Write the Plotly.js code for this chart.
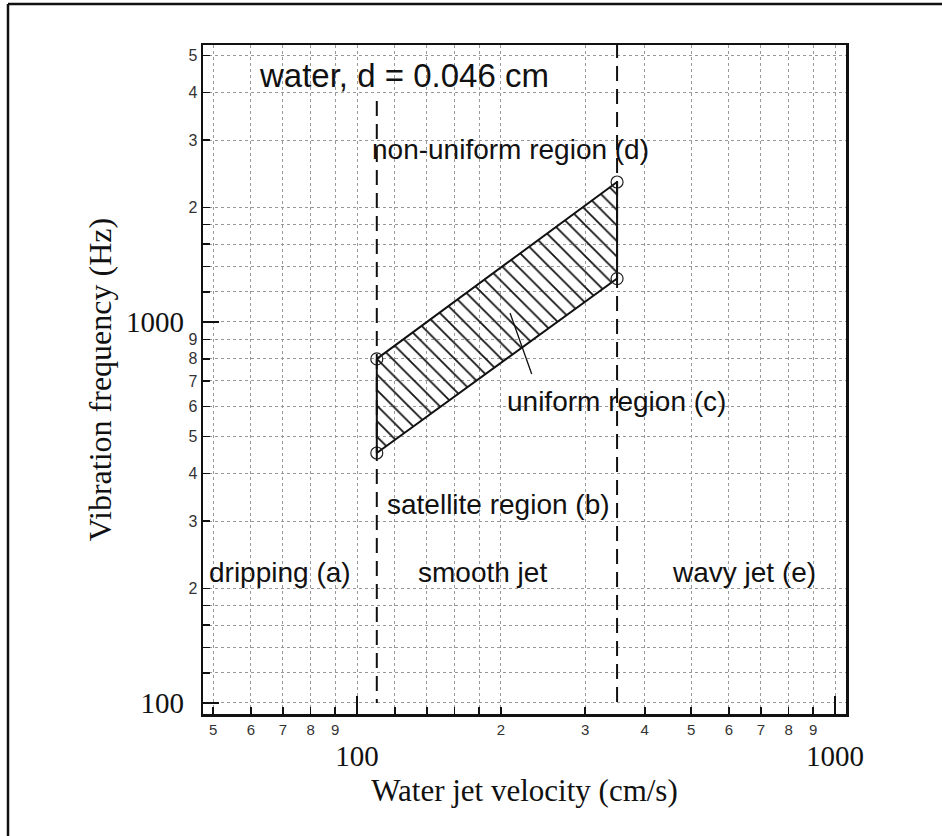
<!DOCTYPE html>
<html><head><meta charset="utf-8">
<script src="https://cdn.plot.ly/plotly-3.0.1.min.js"></script>
<style>html,body{margin:0;padding:0;background:#fff}#chart{width:942px;height:836px}</style>
</head><body><div id="chart"></div>
<script>
// ---- data ----
const regionX = [110, 350, 350, 110, 110];
const regionY = [800, 2330, 1300, 453, 800];
const cornerX = [110, 350, 350, 110];
const cornerY = [800, 2330, 1300, 453];
const boundaryLowX = [110, 110];
const boundaryLowY = [3800, 100];
const boundaryHighX = [350, 350];
const boundaryHighY = [5400, 100];
const leaderX = [232, 209];
const leaderY = [730, 1056];
const xTickVals = [50,60,70,80,90,100,120,140,160,180,200,300,400,500,600,700,800,900,1000];
const xTickText = ['5','6','7','8','9','','','','','','2','3','4','5','6','7','8','9',''];
const yTickVals = [100,120,140,160,180,200,300,400,500,600,700,800,900,1000,1200,1400,1600,1800,2000,3000,4000,5000];
const yTickText = ['','','','','','2','3','4','5','6','7','8','9','','','','','','2','3','4','5'];
const majorVals = [100, 1000];
const majorText = ['100', '1000'];
const labelTitle = 'water, d = 0.046 cm';
const labelD = 'non-uniform region (d)';
const labelC = 'uniform region (c)';
const labelB = 'satellite region (b)';
const labelA = 'dripping (a)';
const labelSmooth = 'smooth jet';
const labelE = 'wavy jet (e)';
const xTitle = 'Water jet velocity (cm/s)';
const yTitle = 'Vibration frequency (Hz)';

// ---- styles ----
const SANS = 'Liberation Sans, Arial, sans-serif';
const SERIF = 'Liberation Serif, Times New Roman, serif';
const xr = [1.6778, 3.023];
const yr = [1.971, 3.727];

const traces = [
  {x: regionX, y: regionY, mode: 'lines', fill: 'toself',
   fillcolor: 'rgba(0,0,0,0)',
   fillpattern: {shape: '\\', size: 11, solidity: 0.16, fgcolor: '#111', fillmode: 'replace'},
   line: {color: '#111', width: 2}, hoverinfo: 'skip', showlegend: false},
  {x: cornerX, y: cornerY, mode: 'markers',
   marker: {symbol: 'circle-open', size: 12, color: '#222', line: {width: 1.2}},
   hoverinfo: 'skip', showlegend: false},
  {x: boundaryLowX, y: boundaryLowY, mode: 'lines',
   line: {color: '#111', width: 2, dash: '15px,8px'}, hoverinfo: 'skip', showlegend: false},
  {x: boundaryHighX, y: boundaryHighY, mode: 'lines',
   line: {color: '#111', width: 2, dash: '15px,8px'}, hoverinfo: 'skip', showlegend: false},
  {x: leaderX, y: leaderY, mode: 'lines',
   line: {color: '#111', width: 1.3}, hoverinfo: 'skip', showlegend: false},
  {x: majorVals, y: majorVals, xaxis: 'x2', yaxis: 'y2', mode: 'markers',
   marker: {opacity: 0}, hoverinfo: 'skip', showlegend: false}
];

function px2x(p){ return (p - 203) / 643; }
function px2y(p){ return (714 - p) / 669; }
function lab(text, xpx, ypx, size){
  return {text: text, xref: 'paper', yref: 'paper', x: px2x(xpx), y: px2y(ypx),
          xanchor: 'left', yanchor: 'middle', showarrow: false,
          font: {family: SANS, size: size, color: '#111'}};
}

const layout = {
  width: 942, height: 836,
  margin: {l: 203, r: 96, t: 45, b: 122, pad: 0},
  paper_bgcolor: '#fff', plot_bgcolor: '#fff',
  showlegend: false,
  xaxis: {type: 'log', range: xr, tickmode: 'array', tickvals: xTickVals, ticktext: xTickText,
          ticks: 'inside', ticklen: 7, tickwidth: 1.5, tickcolor: '#111',
          showline: true, linewidth: 2.5, linecolor: '#111', mirror: true,
          showgrid: true, gridcolor: '#999', griddash: 'dot', gridwidth: 1,
          zeroline: false, tickfont: {family: SANS, size: 15, color: '#333'}},
  yaxis: {type: 'log', range: yr, tickmode: 'array', tickvals: yTickVals, ticktext: yTickText,
          ticks: 'inside', ticklen: 7, tickwidth: 1.5, tickcolor: '#111',
          showline: true, linewidth: 2.5, linecolor: '#111', mirror: true,
          showgrid: true, gridcolor: '#999', griddash: 'dot', gridwidth: 1,
          zeroline: false, tickfont: {family: SANS, size: 16, color: '#333'}},
  xaxis2: {type: 'log', range: xr, overlaying: 'x', anchor: 'y2', side: 'bottom',
           tickmode: 'array', tickvals: majorVals, ticktext: majorText,
           ticks: 'inside', ticklen: 18, tickwidth: 2, tickcolor: '#111',
           showline: false, showgrid: false, zeroline: false,
           ticklabelstandoff: 22,
           tickfont: {family: SERIF, size: 29, color: '#111'},
           title: {text: xTitle, font: {family: SERIF, size: 31, color: '#111'}, standoff: 8}},
  yaxis2: {type: 'log', range: yr, overlaying: 'y', anchor: 'x2', side: 'left',
           tickmode: 'array', tickvals: majorVals, ticktext: majorText,
           ticks: 'inside', ticklen: 16, tickwidth: 2, tickcolor: '#111',
           showline: false, showgrid: false, zeroline: false,
           ticklabelstandoff: 18,
           tickfont: {family: SERIF, size: 29, color: '#111'},
           title: {text: yTitle, font: {family: SERIF, size: 32, color: '#111'}, standoff: 4}},
  annotations: [
    lab(labelTitle, 257, 75, 33),
    lab(labelD, 370, 149, 28),
    lab(labelC, 505, 401, 28),
    lab(labelB, 385, 504, 28),
    lab(labelA, 207, 572, 28),
    lab(labelSmooth, 416, 572, 28),
    lab(labelE, 670, 572, 28)
  ],
  shapes: [
    {type: 'line', xref: 'paper', yref: 'paper', x0: px2x(8), x1: px2x(960), y0: px2y(4), y1: px2y(4),
     line: {color: '#111', width: 2.5}},
    {type: 'line', xref: 'paper', yref: 'paper', x0: px2x(8), x1: px2x(8), y0: px2y(4), y1: px2y(860),
     line: {color: '#111', width: 2.5}}
  ]
};

Plotly.newPlot('chart', traces, layout, {displayModeBar: false, staticPlot: true});
</script>
</body></html>
